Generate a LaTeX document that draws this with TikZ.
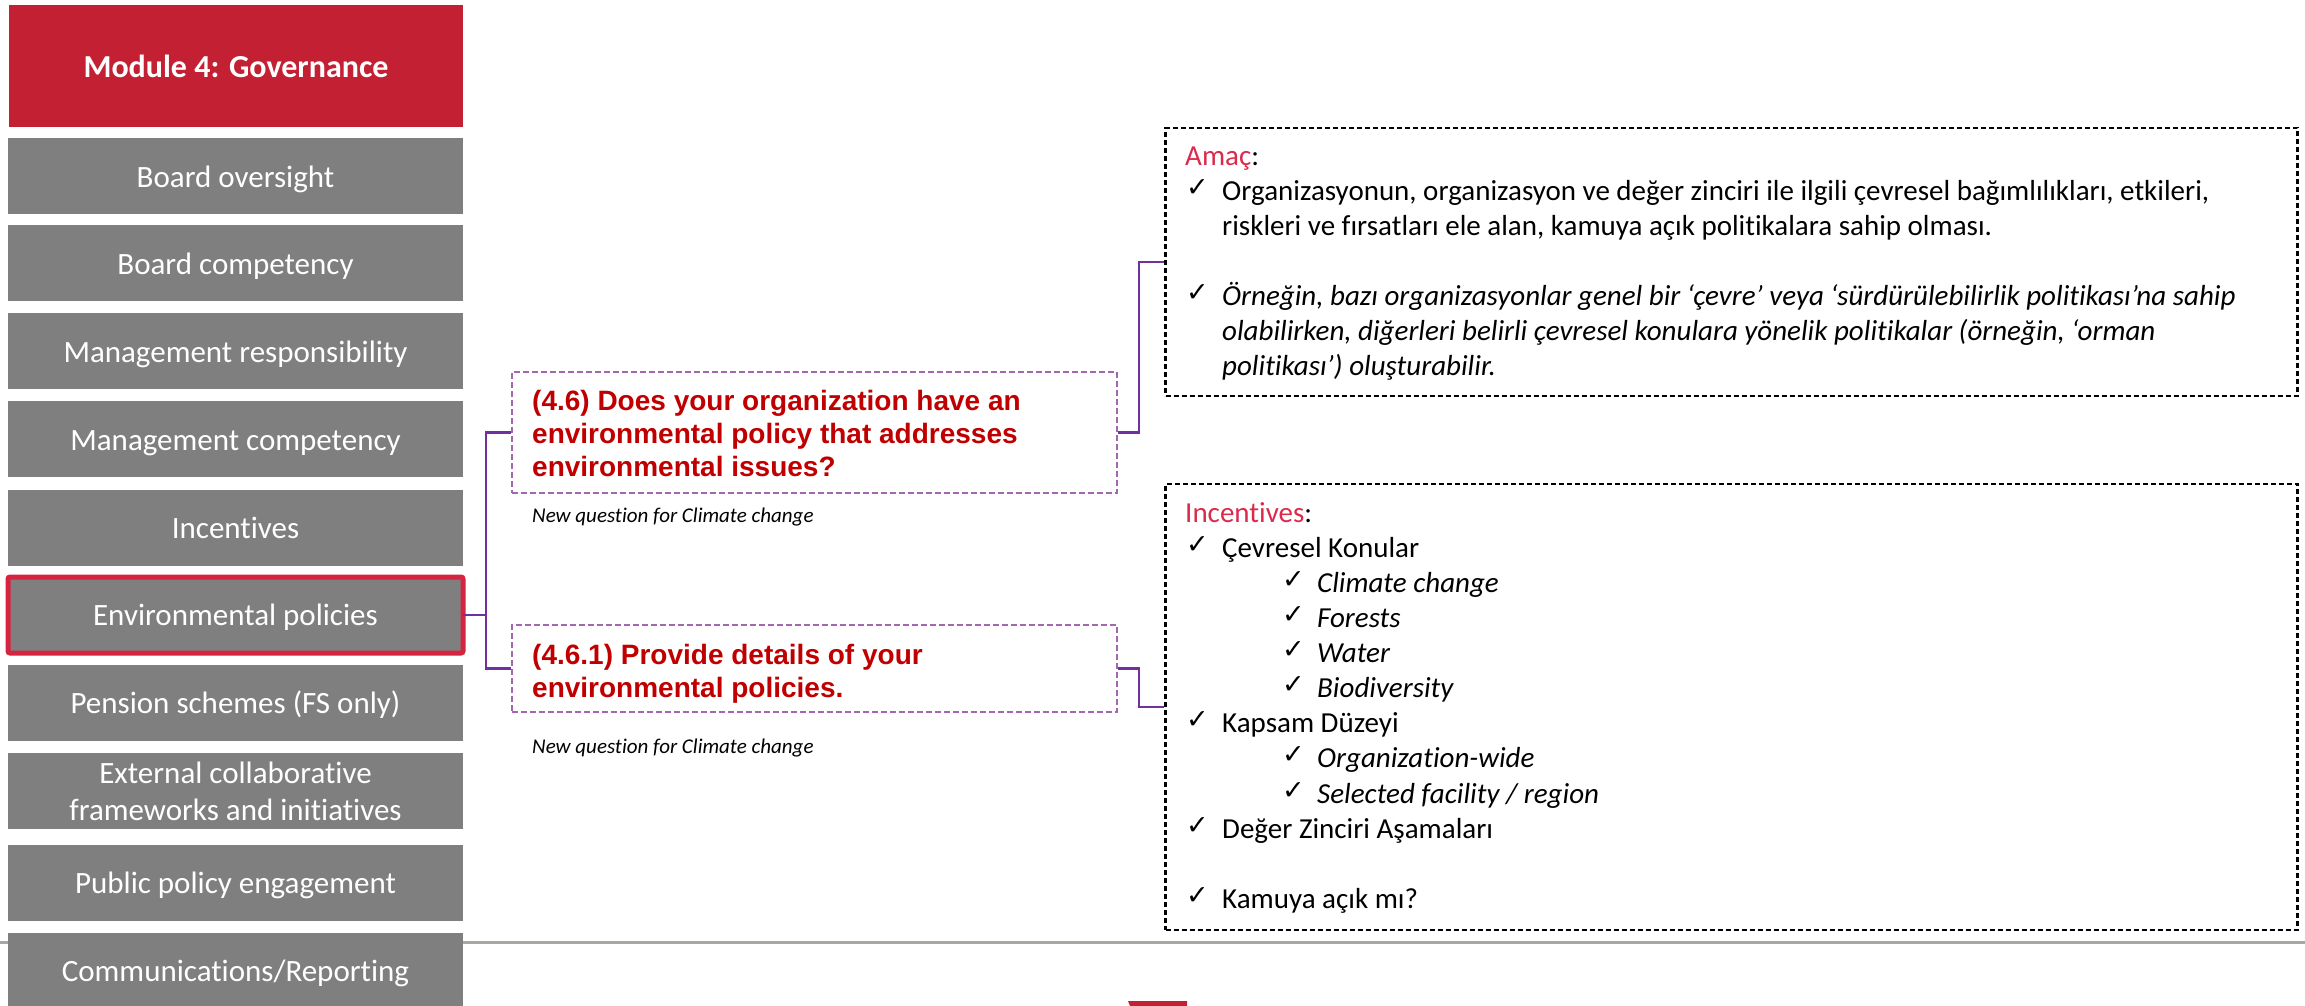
\documentclass[tikz,border=0pt]{standalone}
\usepackage{fontspec}
\setmainfont{Carlito}[Ligatures=CommonOff]
\newfontfamily\arialf{Liberation Sans}
\newfontfamily\dejavu{DejaVu Sans}
\definecolor{cmod}{HTML}{C32033}
\definecolor{cgray}{HTML}{7F7F7F}
\definecolor{cenv}{HTML}{D4243F}
\definecolor{cqb}{HTML}{A367B0}
\definecolor{cqred}{HTML}{C00000}
\definecolor{cpurple}{HTML}{7030A0}
\definecolor{cpink}{HTML}{DB2A4C}
\definecolor{cline}{HTML}{A8A8A2}
\begin{document}
\begin{tikzpicture}[x=1pt,y=-1pt,
  gbox/.style={fill=cgray, draw=none, minimum width=455pt, minimum height=76pt, inner sep=0pt, outer sep=0pt},
  lbl/.style={anchor=base, text=white, inner sep=0pt, font=\fontsize{31}{37}\selectfont},
  qbox/.style={draw=cqb, dash pattern=on 6pt off 3pt, line width=2pt, minimum width=605pt, inner sep=0pt},
  rbox/.style={draw=black, dash pattern=on 5pt off 3pt, line width=2.5pt, minimum width=1132pt, inner sep=0pt},
  qtxt/.style={anchor=base west, inner sep=0pt, text=cqred, font=\arialf\bfseries\fontsize{28}{33}\selectfont},
  note/.style={anchor=base west, inner sep=0pt, font=\itshape\fontsize{21}{25}\selectfont},
  rtxt/.style={anchor=base west, inner sep=0pt, font=\fontsize{29}{35}\selectfont},
  rit/.style={rtxt, font=\itshape\fontsize{29}{35}\selectfont},
  chk/.style={anchor=base west, inner sep=0pt, font=\dejavu\fontsize{27}{27}\selectfont},
  conn/.style={draw=cpurple, line width=2.5pt}]
\useasboundingbox (0,0) rectangle (2305,1005);

% separator line and logo piece
\draw[cline, line width=3pt] (0,942) -- (2305,942);
\fill[cmod] (1128,1001) -- (1187,1001) -- (1187,1006) -- (1130,1006) -- cycle;

% left column
\node[gbox, fill=cmod, minimum width=454pt, minimum height=122pt] (mod) at (236,66) {};
\node[lbl, font=\bfseries\fontsize{32}{38}\selectfont] (modt) at (236,77) {Module 4: Governance};

\node[gbox] (b1) at (235.5,176) {};
\node[lbl] (t1) at (235.5,187) {Board oversight};
\node[gbox] (b2) at (235.5,263) {};
\node[lbl] (t2) at (235.5,274) {Board competency};
\node[gbox] (b3) at (235.5,351) {};
\node[lbl] (t3) at (235.5,362) {Management responsibility};
\node[gbox] (b4) at (235.5,439) {};
\node[lbl] (t4) at (235.5,450) {Management competency};
\node[gbox] (b5) at (235.5,528) {};
\node[lbl] (t5) at (235.5,538) {Incentives};
\node[gbox, draw=cenv, line width=5pt, rounded corners=2pt] (b6) at (235.5,615) {};
\node[lbl] (t6) at (235.5,625) {Environmental policies};
\node[gbox] (b7) at (235.5,703) {};
\node[lbl] (t7) at (235.5,713) {Pension schemes (FS only)};
\node[gbox] (b8) at (235.5,791) {};
\node[lbl] (t8a) at (235.5,783) {External collaborative};
\node[lbl] (t8b) at (235.5,820) {frameworks and initiatives};
\node[gbox] (b9) at (235.5,883) {};
\node[lbl] (t9) at (235.5,893) {Public policy engagement};
\node[gbox] (b10) at (235.5,971) {};
\node[lbl] (t10) at (235.5,981) {Communications/Reporting};

% question boxes
\node[qbox, minimum height=121pt] (q1) at (814,432.5) {};
\node[qtxt] (q1a) at (532,410) {(4.6) Does your organization have an};
\node[qtxt] (q1b) at (532,443) {environmental policy that addresses};
\node[qtxt] (q1c) at (532,476) {environmental issues?};
\node[note] (n1) at (532,522) {New question for Climate change};

\node[qbox, minimum height=87pt] (q2) at (814,668.5) {};
\node[qtxt] (q2a) at (532,664) {(4.6.1) Provide details of your};
\node[qtxt] (q2b) at (532,697) {environmental policies.};
\node[note] (n2) at (532,753) {New question for Climate change};

% right boxes
\node[rbox, minimum height=268pt] (r1) at (1731.5,262) {};
\node[rtxt] (r1h) at (1185,165) {\textcolor{cpink}{Amaç}:};
\node[chk] (c1) at (1186,196) {✓};
\node[rtxt] (r1a) at (1222,200) {Organizasyonun, organizasyon ve değer zinciri ile ilgili çevresel bağımlılıkları, etkileri,};
\node[rtxt] (r1b) at (1222,235) {riskleri ve fırsatları ele alan, kamuya açık politikalara sahip olması.};
\node[chk] (c2) at (1186,301) {✓};
\node[rit] (r1c) at (1222,305) {Örneğin, bazı organizasyonlar genel bir ‘çevre’ veya ‘sürdürülebilirlik politikası’na sahip};
\node[rit] (r1d) at (1222,340) {olabilirken, diğerleri belirli çevresel konulara yönelik politikalar (örneğin, ‘orman};
\node[rit] (r1e) at (1222,375) {politikası’) oluşturabilir.};

\node[rbox, minimum height=446pt] (r2) at (1731.5,707) {};
\node[rtxt] (r2h) at (1185,522) {\textcolor{cpink}{Incentives}:};
\node[chk] (c3) at (1186,553) {✓};
\node[rtxt] (r2a) at (1222,557) {Çevresel Konular};
\node[chk] (c4) at (1282,588) {✓};
\node[rit] (r2b) at (1317,592) {Climate change};
\node[chk] (c5) at (1282,623) {✓};
\node[rit] (r2c) at (1317,627) {Forests};
\node[chk] (c6) at (1282,658) {✓};
\node[rit] (r2d) at (1317,662) {Water};
\node[chk] (c7) at (1282,693) {✓};
\node[rit] (r2e) at (1317,697) {Biodiversity};
\node[chk] (c8) at (1186,728) {✓};
\node[rtxt] (r2f) at (1222,732) {Kapsam Düzeyi};
\node[chk] (c9) at (1282,763) {✓};
\node[rit] (r2g) at (1317,767) {Organization-wide};
\node[chk] (c10) at (1282,799) {✓};
\node[rit] (r2h2) at (1317,803) {Selected facility / region};
\node[chk] (c11) at (1186,834) {✓};
\node[rtxt] (r2i) at (1222,838) {Değer Zinciri Aşamaları};
\node[chk] (c12) at (1186,904) {✓};
\node[rtxt] (r2j) at (1222,908) {Kamuya açık mı?};

% connectors
\coordinate (j1) at (486,615);
\draw[conn] (b6.east) -- (j1) |- (q1.west);
\draw[conn] (j1) |- (q2.west);
\coordinate (j2) at (1139,432.5);
\draw[conn] (q1.east) -- (j2) |- (r1.west);
\coordinate (j3) at (1139,668.5);
\draw[conn] (q2.east) -- (j3) |- (r2.west);
\end{tikzpicture}
\end{document}
